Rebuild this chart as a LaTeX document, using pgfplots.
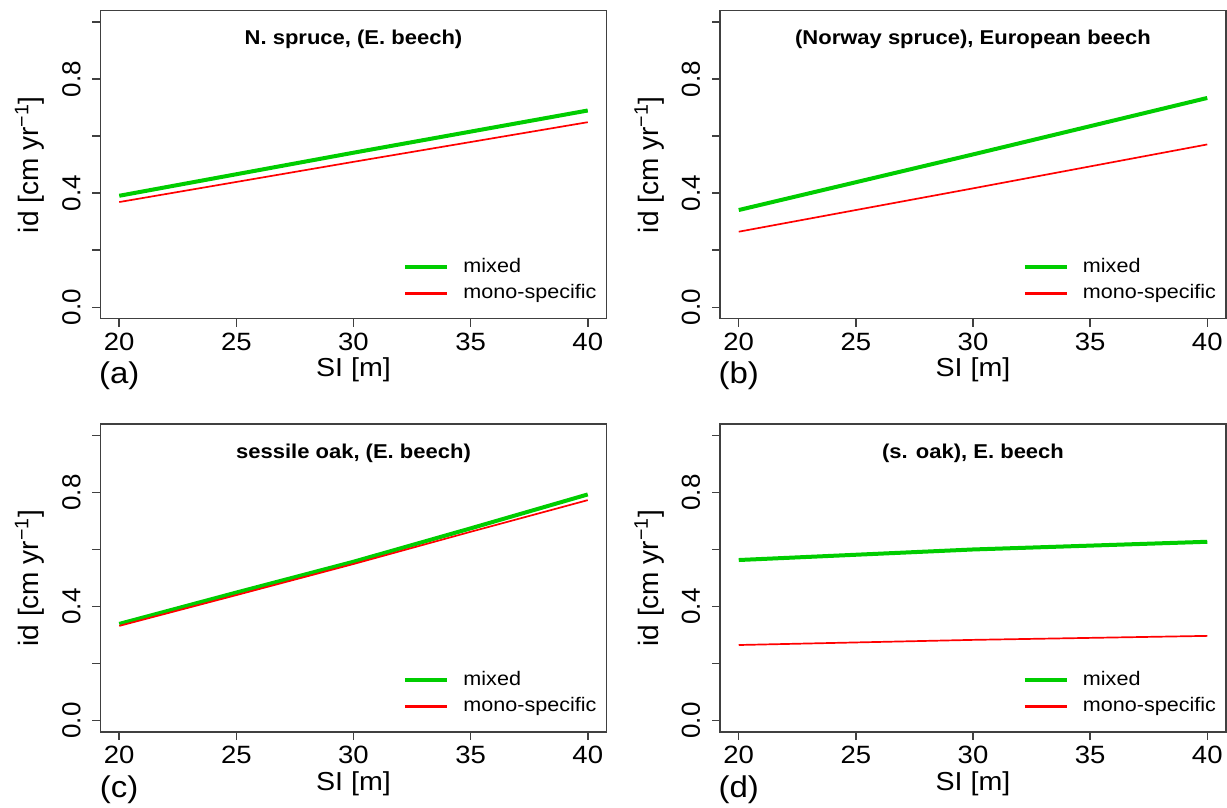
\documentclass[border=0pt]{standalone}
\usepackage{fontspec}
\setmainfont{Liberation Sans}[FakeStretch=1.1]
\newfontfamily\rotfont{Liberation Sans}
\usepackage{pgfplots}
\pgfplotsset{compat=1.18}

\definecolor{rgreen}{HTML}{00CD00}
\definecolor{rred}{HTML}{FF0000}

\pgfplotsset{
  panel/.style={
    scale only axis,
    width=253pt, height=154pt,
    xmin=19.2, xmax=40.8, ymin=-0.04, ymax=1.04,
    clip=false,
    xtick={20,25,30,35,40},
    ytick={0,0.2,0.4,0.6,0.8,1},
    yticklabels={0.0,{},0.4,{},0.8,{}},
    tick pos=left,
    tick align=outside,
    major tick length=4pt,
    axis line style={black!75, line width=0.75pt},
    tick style={black!75, line width=0.75pt},
    /pgf/number format/assume math mode=true,
    xticklabel style={font=\fontsize{12.5}{15}\selectfont, inner sep=3pt},
    yticklabel style={font=\rotfont\fontsize{13}{15}\selectfont, rotate=90, anchor=south, inner sep=5.75pt},
    xlabel={SI [m]},
    ylabel={id [cm yr\textsuperscript{−1}]},
    xlabel style={font=\fontsize{13}{15}\selectfont, at={(axis description cs:0.5,-0.1666)}, anchor=center},
    ylabel style={font=\rotfont\fontsize{14}{17}\selectfont, at={(axis description cs:-0.140,0.5)}, anchor=center},
    legend style={draw=none, fill=none, at={(axis description cs:0.598,0.211)}, anchor=north west,
      inner sep=0pt, font=\fontsize{9.8}{12}\selectfont, column sep=7pt, row sep=0pt,
      nodes={inner xsep=0pt, inner ysep=1.5pt, text height=7.5pt, text depth=2.5pt}},
    legend cell align=left,
    legend image code/.code={\draw[#1] (0pt,0pt) -- (21pt,0pt);},
  },
  mixed/.style={rgreen, line width=2pt},
  mono/.style={rred, line width=0.85pt},
}
\tikzset{
  paneltitle/.style={font=\bfseries\fontsize{10}{12}\selectfont, anchor=center},
  panelletter/.style={font=\fontsize{15}{18}\selectfont, anchor=center},
}

\begin{document}
\begin{tikzpicture}
\useasboundingbox (0,0) rectangle (613.5pt,404pt);

% (a)
\begin{axis}[panel, at={(50.25pt,244.65pt)}, anchor=south west]
  \addplot[mixed, forget plot] coordinates {(20,0.391) (30,0.542) (40,0.690)};
  \addplot[mono, forget plot] coordinates {(20,0.369) (30,0.510) (40,0.649)};
  \addlegendimage{rgreen, line width=2pt}\addlegendentry{mixed}
  \addlegendimage{rred, line width=1.4pt}\addlegendentry{mono-specific}
  \node[paneltitle] at (axis description cs:0.5,0.906) {N. spruce, (E. beech)};
  \node[panelletter] at (axis description cs:0.037,-0.186) {(a)};
\end{axis}

% (b)
\begin{axis}[panel, at={(360pt,244.65pt)}, anchor=south west]
  \addplot[mixed, forget plot] coordinates {(20,0.341) (30,0.536) (40,0.734)};
  \addplot[mono, forget plot] coordinates {(20,0.265) (30,0.417) (40,0.571)};
  \addlegendimage{rgreen, line width=2pt}\addlegendentry{mixed}
  \addlegendimage{rred, line width=1.4pt}\addlegendentry{mono-specific}
  \node[paneltitle] at (axis description cs:0.5,0.906) {(Norway spruce), European beech};
  \node[panelletter] at (axis description cs:0.037,-0.186) {(b)};
\end{axis}

% (c)
\begin{axis}[panel, at={(50.25pt,38pt)}, anchor=south west]
  \addplot[mixed, forget plot] coordinates {(20,0.339) (25,0.449) (30,0.557) (35,0.674) (40,0.793)};
  \addplot[mono, forget plot] coordinates {(20,0.332) (25,0.440) (30,0.549) (35,0.662) (40,0.773)};
  \addlegendimage{rgreen, line width=2pt}\addlegendentry{mixed}
  \addlegendimage{rred, line width=1.4pt}\addlegendentry{mono-specific}
  \node[paneltitle] at (axis description cs:0.5,0.906) {sessile oak, (E. beech)};
  \node[panelletter] at (axis description cs:0.037,-0.186) {(c)};
\end{axis}

% (d)
\begin{axis}[panel, at={(360pt,38pt)}, anchor=south west]
  \addplot[mixed, forget plot] coordinates {(20,0.563) (30,0.600) (40,0.627)};
  \addplot[mono, forget plot] coordinates {(20,0.265) (30,0.283) (40,0.297)};
  \addlegendimage{rgreen, line width=2pt}\addlegendentry{mixed}
  \addlegendimage{rred, line width=1.4pt}\addlegendentry{mono-specific}
  \node[paneltitle] at (axis description cs:0.5,0.906) {(s. oak), E. beech};
  \node[panelletter] at (axis description cs:0.037,-0.186) {(d)};
\end{axis}
\end{tikzpicture}
\end{document}
